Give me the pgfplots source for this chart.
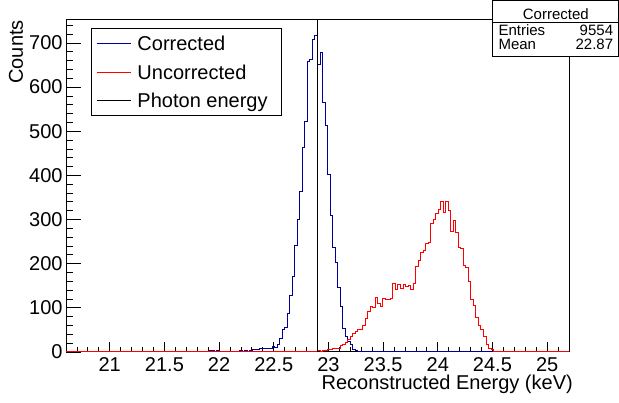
\documentclass[border=0pt]{standalone}
\usepackage{fontspec}
\setmainfont{Liberation Sans}
\usepackage{pgfplots}
\usepackage{pgfplotstable}
\pgfplotsset{compat=1.18}

\definecolor{histblue}{RGB}{0,0,153}
\definecolor{histred}{RGB}{255,0,0}

% Histograms: 200 bins of 0.023 keV from 20.6 to 25.2 keV; x = left bin edge
\pgfplotstableread{
x y
20.600 0
21.704 1
21.727 0
21.750 1
21.773 1
21.796 0
21.819 1
21.842 1
21.865 1
21.888 2
21.911 3
21.934 3
21.957 2
21.980 3
22.003 1
22.026 2
22.049 1
22.072 2
22.095 1
22.118 2
22.141 1
22.164 2
22.187 3
22.210 2
22.233 3
22.256 2
22.279 4
22.302 5
22.325 6
22.348 5
22.371 7
22.394 8
22.417 7
22.440 7
22.463 9
22.486 12
22.509 11
22.532 16
22.555 31
22.578 50
22.601 56
22.624 88
22.647 127
22.670 172
22.693 242
22.716 301
22.739 364
22.762 464
22.785 522
22.808 658
22.831 663
22.854 708
22.877 716
22.900 652
22.923 678
22.946 564
22.969 514
22.992 403
23.015 310
23.038 236
23.061 202
23.084 145
23.107 103
23.130 54
23.153 35
23.176 23
23.199 16
23.222 5
23.245 3
23.268 2
23.291 1
23.314 1
23.337 0
23.360 1
23.383 0
24.165 1
24.188 0
24.257 1
24.280 0
25.200 0
}\corrected

\pgfplotstableread{
x y
20.600 0
22.785 1
22.808 1
22.831 2
22.854 1
22.877 2
22.900 3
22.923 2
22.946 4
22.969 3
22.992 5
23.015 6
23.038 8
23.061 7
23.084 9
23.107 14
23.130 18
23.153 22
23.176 29
23.199 35
23.222 41
23.245 46
23.268 50
23.291 52
23.314 61
23.337 76
23.360 91
23.383 103
23.406 100
23.429 124
23.452 109
23.475 104
23.498 122
23.521 118
23.544 118
23.567 122
23.590 156
23.613 142
23.636 152
23.659 144
23.682 152
23.705 148
23.728 150
23.751 142
23.774 156
23.797 193
23.820 207
23.843 225
23.866 230
23.889 246
23.912 248
23.935 292
23.958 301
23.981 313
24.004 322
24.027 342
24.050 315
24.073 341
24.096 320
24.119 272
24.142 298
24.165 270
24.188 237
24.211 235
24.234 195
24.257 192
24.280 159
24.303 118
24.326 106
24.349 79
24.372 59
24.395 50
24.418 35
24.441 16
24.464 8
24.487 5
24.510 1
24.533 0
25.200 0
}\uncorrected

\begin{document}
\begin{tikzpicture}
\useasboundingbox (0,0) rectangle (619bp,403bp);
\begin{axis}[
  at={(66bp,51bp)}, anchor=south west,
  scale only axis, width=503bp, height=332bp,
  xmin=20.6, xmax=25.2, ymin=0, ymax=752,
  clip=false,
  axis line style={line width=1bp},
  tick align=inside, xtick pos=lower, ytick pos=left,
  xtick={21,21.5,...,25},
  minor xtick={20.7,20.8,...,25.15},
  ytick={0,100,...,700},
  minor ytick={20,40,...,740},
  major tick style={draw=black, line width=0.8bp},
  minor tick style={draw=black, line width=0.8bp},
  xtick style={/pgfplots/major tick length=9.5bp, /pgfplots/minor tick length=5bp},
  ytick style={/pgfplots/major tick length=14.5bp, /pgfplots/minor tick length=7.3bp},
  /pgf/number format/assume math mode=true,
  tick label style={font=\fontsize{20bp}{24bp}\selectfont},
  xticklabel style={anchor=base, yshift=-20bp},
  yticklabel style={anchor=east, inner sep=0pt, xshift=-3.3bp},
  xlabel={Reconstructed Energy (keV)},
  xlabel style={at={(axis description cs:1.008,-0.1123)}, anchor=base east, inner sep=0pt, font=\fontsize{20bp}{24bp}\selectfont},
  ylabel={Counts},
  ylabel style={at={(axis description cs:-0.0855,1)}, anchor=base east, inner sep=0pt, font=\fontsize{20bp}{24bp}\selectfont},
  legend style={at={(axis description cs:0.0497,0.975)}, anchor=north west,
    draw=black, line width=1bp, fill=white,
    font=\fontsize{20bp}{24bp}\selectfont,
    inner xsep=5bp, inner ysep=5bp, row sep=8.4bp, column sep=4bp,
    nodes={inner sep=2bp, text height=15bp, text depth=1bp}},
  legend cell align=left,
  legend image code/.code={\draw[#1] (0bp,0bp) -- (34bp,0bp);},
]
\addplot[const plot mark left, draw=histblue, line width=1bp] table[x=x, y=y] {\corrected};
\addlegendentry{\makebox[137bp][l]{Corrected}}
\addplot[const plot mark left, draw=histred, line width=1bp] table[x=x, y=y] {\uncorrected};
\addlegendentry{\makebox[137bp][l]{Uncorrected}}
\addplot[draw=black, line width=1bp] coordinates {(22.9,0) (22.9,752)};
\addlegendentry{\makebox[137bp][l]{Photon energy}}
\end{axis}

% statistics box
\draw[line width=0.8bp, fill=white] (492.3bp,346.3bp) rectangle (618.3bp,402.3bp);
\draw[line width=0.8bp] (492.3bp,380.2bp) -- (618.3bp,380.2bp);
\begin{scope}[every node/.style={inner sep=0pt, font=\fontsize{15bp}{18bp}\selectfont}]
\node[anchor=base] at (555.8bp,383bp) {Corrected};
\node[anchor=base west] at (498.3bp,367bp) {Entries};
\node[anchor=base east] at (613.3bp,367bp) {9554};
\node[anchor=base west] at (498.3bp,353bp) {Mean};
\node[anchor=base east] at (613.3bp,353bp) {22.87};
\end{scope}
\end{tikzpicture}
\end{document}
